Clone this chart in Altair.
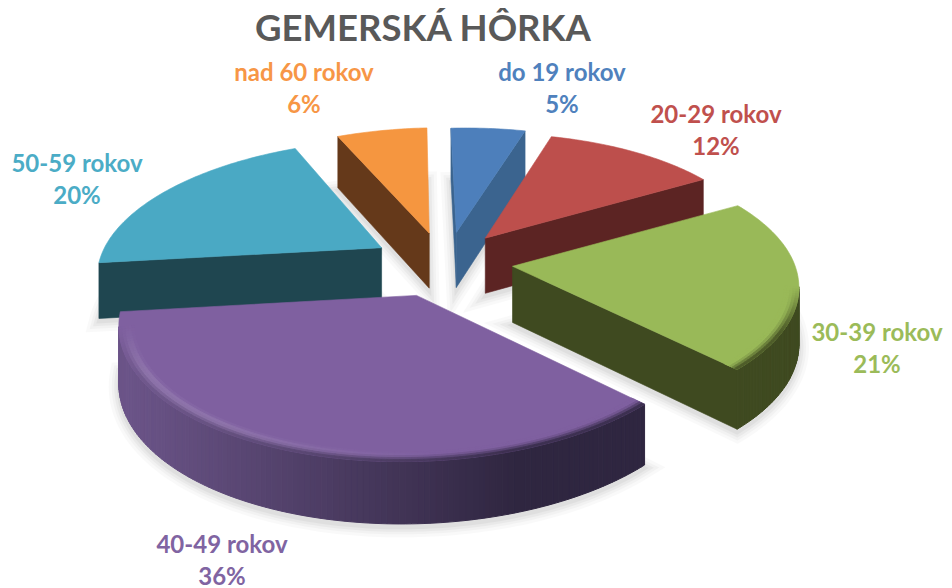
import math
import altair as alt

# ---- values ----
categories = ["do 19 rokov", "20-29 rokov", "30-39 rokov", "40-49 rokov", "50-59 rokov", "nad 60 rokov"]
percent = [5, 12, 21, 36, 20, 6]
title_text = "GEMERSKÁ HÔRKA"

# ---- styles ----
top_colors = ["#4d7fbb", "#bd4f4c", "#99b958", "#7f60a0", "#4aa9c4", "#f59640"]
wall_light = ["#3b648f", "#5c2423", "#3f4a20", "#6b5488", "#1f4650", "#65391a"]
wall_dark = ["#3b648f", "#5c2423", "#3f4a20", "#2f2640", "#1f4650", "#65391a"]
label_colors = ["#4f81bd", "#c0504d", "#9bbb59", "#8064a2", "#4bacc6", "#f79646"]
paint_order = [0, 5, 1, 4, 2, 3]

# ---- view of the pie ----
CX, CY = 434.0, 255.0   # chart pixels
RX, RY = 285.0, 130.0
PERSP = 0.16
EXPLODE = 0.245
DEPTH = 56.0
ROLL = 0.017
ROTATE = math.radians(-1.0)
N_SEG = 1.0             # degrees per rim step
# small per-slice corrections of the view (turn in degrees, radius factor, pixel shift)
fine_turn = [0.0, 0.5, 1.5, 0.0, 0.0, 0.0]
fine_scale = [1.0, 0.985, 0.98, 0.99, 1.0, 1.01]
fine_shift = [(5, 0), (1, 0), (1, 0), (0, 1), (-2, 0), (1, 0)]


def proj(X, V, z=0.0):
    den = 1 - PERSP * V
    x = CX + RX * X / den
    y = CY + RY * V / den + z / den ** 0.5
    return [x, y - ROLL * (x - CX)]


def hex2rgb(h):
    return [int(h[i:i + 2], 16) for i in (1, 3, 5)]


def mix(a, b, t):
    t = max(0.0, min(1.0, t))
    ra, rb = hex2rgb(a), hex2rgb(b)
    return "#%02x%02x%02x" % tuple(round(x + (y - x) * t) for x, y in zip(ra, rb))


def feat(poly, color, opacity=1.0, sw=0.6):
    ring = poly + [poly[0]]
    return {"type": "Feature",
            "geometry": {"type": "Polygon", "coordinates": [ring]},
            "properties": {"c": color, "o": opacity, "w": sw}}


def area(p):
    return sum(p[i][0] * p[(i + 1) % len(p)][1] - p[(i + 1) % len(p)][0] * p[i][1] for i in range(len(p))) / 2


total = sum(percent)
slices = []
acc = 0.0
for i, p in enumerate(percent):
    turn = ROTATE + math.radians(fine_turn[i])
    a0 = acc / total * 2 * math.pi
    acc += p
    a1 = acc / total * 2 * math.pi
    m = (a0 + a1) / 2 + ROTATE
    slices.append(dict(i=i, a0=a0 + turn, a1=a1 + turn, ex=EXPLODE * math.sin(m), ev=-EXPLODE * math.cos(m)))


def point(s, th, r=1.0, z=0.0):
    i = s["i"]
    r = r * fine_scale[i]
    q = proj(s["ex"] + r * math.sin(th), s["ev"] - r * math.cos(th), z)
    return [q[0] + fine_shift[i][0], q[1] + fine_shift[i][1]]


def angles(s):
    n = max(2, int(math.degrees(s["a1"] - s["a0"]) / N_SEG))
    return [s["a0"] + (s["a1"] - s["a0"]) * j / n for j in range(n + 1)]


features = []

# soft shadow under the slices
for width, op in [(20, 0.02), (14, 0.025), (9, 0.03), (4, 0.035)]:
    for s in slices:
        ths = angles(s)
        poly = [point(s, s["a0"], 0, DEPTH + 3)] + [point(s, t, 1, DEPTH + 3) for t in ths]
        features.append(feat(poly, "#000000", op, width))

for idx in paint_order:
    s = slices[idx]
    top, wl, wd = top_colors[idx], wall_light[idx], wall_dark[idx]
    ths = angles(s)
    # straight walls (only those turned to the viewer)
    for th, sign in ((s["a0"], -1), (s["a1"], 1)):
        q = [point(s, 0, 0), point(s, th), point(s, th, 1, DEPTH), point(s, 0, 0, DEPTH)]
        if sign * area(q) > 0:
            features.append(feat(q, wd))
    # outer wall
    for t0, t1 in zip(ths[:-1], ths[1:]):
        a, b = point(s, t0), point(s, t1)
        if b[0] < a[0]:
            c = mix(wl, wd, (a[0] + 8 - 130) / 390)
            features.append(feat([a, b, point(s, t1, 1, DEPTH), point(s, t0, 1, DEPTH)], c, 1.0, 1.0))
    # top face
    poly = [point(s, 0, 0)] + [point(s, t) for t in ths]
    features.append(feat(poly, top))
    # rounded edge between top and wall
    bands = [0.95, 0.96, 0.97, 0.98, 0.99, 1.0]
    for r0, r1 in zip(bands[:-1], bands[1:]):
        tb = ((r0 + r1) / 2 - 0.95) / 0.05
        for t0, t1 in zip(ths[:-1], ths[1:]):
            a, b = point(s, t0), point(s, t1)
            seg = math.hypot(b[0] - a[0], b[1] - a[1])
            f = max(0.0, min(1.0, (a[0] - b[0]) / seg * 1.6))
            if f <= 0:
                continue
            left = max(0.0, min(1.0, -math.sin((t0 + t1) / 2) * 1.5 + 0.1))
            light = mix(top, "#ffffff", 0.16 * left)
            if tb < 0.4:
                c = mix(top, light, tb / 0.4)
            else:
                c = mix(light, mix(wl, wd, (a[0] + 8 - 130) / 390), (tb - 0.4) / 0.6)
            c = mix(top, c, f)
            features.append(feat([point(s, t0, r0), point(s, t1, r0), point(s, t1, r1), point(s, t0, r1)], c, 1.0, 0.8))

pie = alt.Chart(alt.Data(values=features)).mark_geoshape().encode(
    fill=alt.Fill("properties.c:N", scale=None),
    stroke=alt.Stroke("properties.c:N", scale=None),
    opacity=alt.Opacity("properties.o:Q", scale=None),
    strokeWidth=alt.StrokeWidth("properties.w:Q", scale=None),
).project(type="identity", scale=1, translate=[0, 0])

# ---- text ----
FONT = "Lato"
label_xy = [(554, 83), (708, 125), (869, 343), (214, 555), (69, 174), (296, 83)]
layers = [pie]
layers.append(alt.Chart(alt.Data(values=[{"t": title_text}])).mark_text(
    font=FONT, fontWeight="bold", fontSize=36.5, color="#595959", align="center", baseline="alphabetic"
).encode(text="t:N", x=alt.value(415), y=alt.value(33)))
for name, p, col, (x, y) in zip(categories, percent, label_colors, label_xy):
    layers.append(alt.Chart(alt.Data(values=[{"t": name}])).mark_text(
        font=FONT, fontWeight="bold", fontSize=24, color=col, align="center", baseline="alphabetic"
    ).encode(text="t:N", x=alt.value(x), y=alt.value(y - 10)))
    layers.append(alt.Chart(alt.Data(values=[{"t": f"{p}%"}])).mark_text(
        font=FONT, fontWeight="bold", fontSize=24, color=col, align="center", baseline="alphabetic"
    ).encode(text="t:N", x=alt.value(x), y=alt.value(y + 22)))

chart = alt.layer(*layers).properties(
    width=936, height=580, padding=0, autosize=alt.AutoSizeParams(type="none")
).configure_view(stroke=None)

chart.save("out.html", embed_options={"renderer": "svg", "actions": False})
